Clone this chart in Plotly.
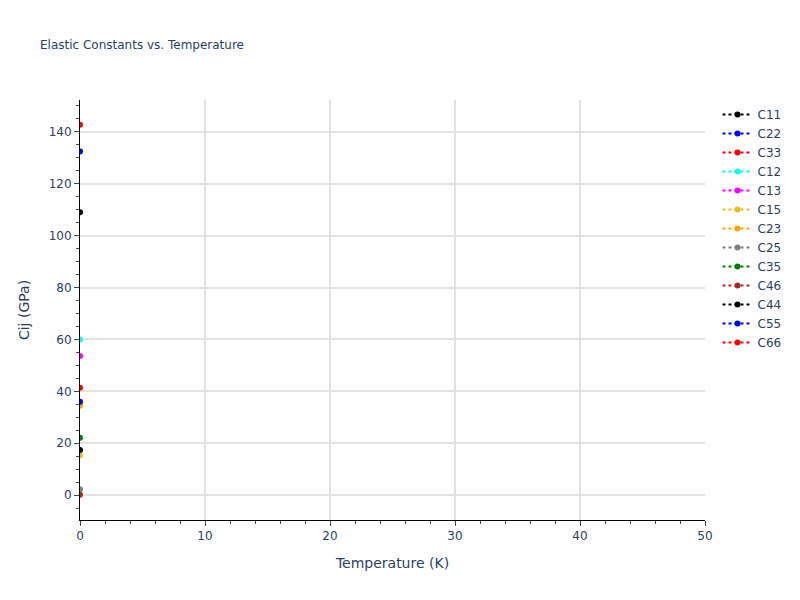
import plotly.graph_objects as go

temperature = [0]

names = ['C11', 'C22', 'C33', 'C12', 'C13', 'C15', 'C23', 'C25', 'C35', 'C46', 'C44', 'C55', 'C66']
values = [109.0, 132.4, 142.8, 60.0, 53.6, 15.4, 34.4, 2.3, 22.1, 0.1, 17.4, 36.0, 41.4]
colors = ['black', 'blue', 'red', 'cyan', 'magenta', '#e5be1e', 'orange', 'gray', 'green',
          'brown', 'black', 'blue', 'red']

fig = go.Figure()

for name, val, col in zip(names, values, colors):
    fig.add_trace(go.Scatter(x=temperature, y=[val], mode='lines+markers', name=name,
                             line=dict(color=col, dash='dot'),
                             marker=dict(color=col, size=6)))

# page body has an 8px margin, so pull the figure up/left a bit
fig.update_layout(
    template='plotly_white',
    width=800, height=600,
    margin=dict(l=72, t=92, b=88, r=103),
    font=dict(family='Verdana, DejaVu Sans'),
    title=dict(text='Elastic Constants vs. Temperature', font=dict(size=12),
               x=0.04, y=0.938, yanchor='middle'),
    legend=dict(x=1.02),
    xaxis=dict(title='Temperature (K)', range=[0, 50], showline=True, linecolor='black',
               ticks='outside', dtick=10, gridcolor='#e2e2e2', gridwidth=1.5,
               minor=dict(ticks='outside', dtick=2, showgrid=False)),
    yaxis=dict(title='Cij (GPa)', range=[-9.6, 152.3], showline=True, linecolor='black',
               ticks='outside', dtick=20, gridcolor='#e2e2e2', gridwidth=1.5,
               zerolinecolor='#e2e2e2', zerolinewidth=2,
               minor=dict(ticks='outside', dtick=5, showgrid=False)),
)

fig.write_html('out.html')
